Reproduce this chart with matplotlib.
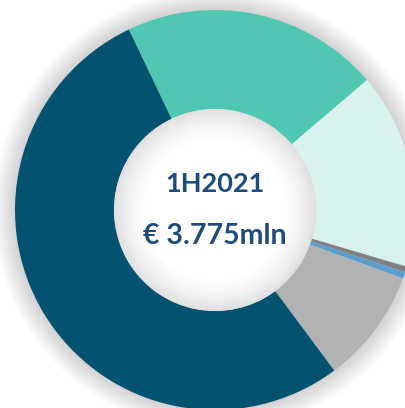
import matplotlib.pyplot as plt
from matplotlib.patches import Circle

# revenue split 1H2021 (mln EUR)
segments = ['Teal', 'Light teal', 'Dark grey', 'Blue', 'Light grey', 'Dark blue']
values = [0.786, 0.598, 0.017, 0.020, 0.350, 2.004]
colors = ['#50C7B3', '#D9F2EE', '#808184', '#5B9FCF', '#B1B3B2', '#025270']
period = '1H2021'
total_label = '€ 3.775mln'

cx, cy = 215, 198
r_out, r_in = 200, 101

fig = plt.figure(figsize=(4.05, 4.08), dpi=100)
ax = fig.add_axes([0, 0, 1, 1])

# soft shadow around the ring
for d in range(22, 0, -1):
    ax.add_patch(Circle((cx, cy), r_out + d, color='black', alpha=0.006, lw=0, zorder=0))

ax.pie(values, colors=colors, startangle=115.5, counterclock=False,
       radius=r_out, center=(cx, cy),
       wedgeprops=dict(width=r_out - r_in, linewidth=0))

# shaded hole: grey at the rim, fading to white inward (solid steps, no alpha)
r_white = 68
for r in range(r_in, r_white - 1, -1):
    t = (r - r_white) / (r_in - r_white)
    g = 1.0 - 0.12 * t ** 1.6
    ax.add_patch(Circle((cx, cy), r, color=(g, g, g), lw=0, zorder=3))

ax.text(cx, 408 - 184, period, ha='center', va='center', fontsize=19.5,
        fontweight='bold', color='#1F4A7C', family='Lato', zorder=5)
ax.text(cx, 408 - 236, total_label, ha='center', va='center', fontsize=20.5,
        fontweight='bold', color='#1F4A7C', family=['Lato', 'DejaVu Sans'], zorder=5)

ax.set_xlim(0, 405)
ax.set_ylim(0, 408)
ax.set_aspect('equal')
ax.axis('off')

fig.savefig('out.png', dpi=100, facecolor='white')
